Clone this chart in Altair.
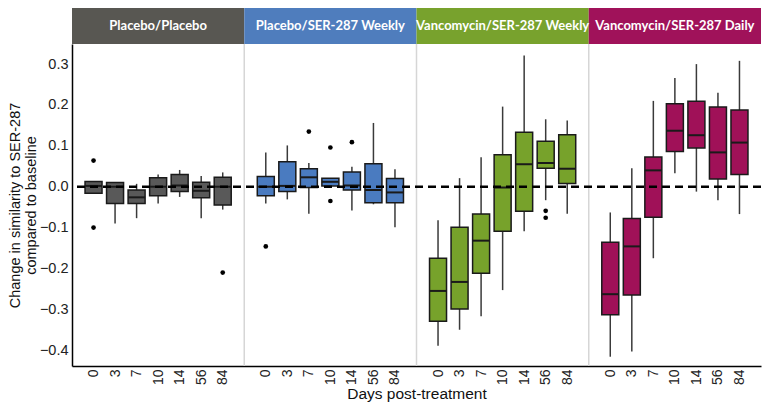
import altair as alt
import pandas as pd

groups = ["Placebo/Placebo", "Placebo/SER-287 Weekly",
          "Vancomycin/SER-287 Weekly", "Vancomycin/SER-287 Daily"]
days = ["0", "3", "7", "10", "14", "56", "84"]
strip_colors = ["#585752", "#4f7dbd", "#78a22d", "#a0125a"]
box_colors = ["#595959", "#4a7bc0", "#77a22b", "#a01158"]

# per group: lists over days
q1 = [
    [-0.016, -0.041, -0.041, -0.022, -0.012, -0.027, -0.045],
    [-0.022, -0.012, -0.002, 0.002, -0.008, -0.039, -0.039],
    [-0.329, -0.299, -0.212, -0.109, -0.060, 0.045, 0.008],
    [-0.313, -0.265, -0.075, 0.086, 0.095, 0.019, 0.030],
]
median = [
    [0.002, 0.000, -0.026, 0.000, 0.003, -0.010, 0.000],
    [0.000, 0.002, 0.023, 0.012, 0.003, -0.008, -0.014],
    [-0.255, -0.233, -0.132, -0.002, 0.055, 0.058, 0.044],
    [-0.263, -0.146, 0.040, 0.137, 0.126, 0.084, 0.108],
]
q3 = [
    [0.013, 0.010, -0.008, 0.022, 0.030, 0.011, 0.023],
    [0.025, 0.061, 0.044, 0.021, 0.036, 0.056, 0.020],
    [-0.175, -0.099, -0.067, 0.078, 0.133, 0.111, 0.127],
    [-0.136, -0.078, 0.073, 0.203, 0.209, 0.195, 0.188],
]
whisker_lo = [
    [-0.016, -0.090, -0.077, -0.041, -0.025, -0.077, -0.056],
    [-0.041, -0.031, -0.066, 0.002, -0.058, -0.043, -0.099],
    [-0.389, -0.350, -0.317, -0.253, -0.109, -0.033, -0.066],
    [-0.416, -0.403, -0.175, 0.033, -0.012, -0.033, -0.067],
]
whisker_hi = [
    [0.013, 0.010, 0.007, 0.030, 0.041, 0.026, 0.035],
    [0.084, 0.101, 0.058, 0.021, 0.049, 0.156, 0.043],
    [-0.082, 0.021, 0.072, 0.196, 0.321, 0.165, 0.162],
    [-0.063, 0.045, 0.210, 0.266, 0.300, 0.230, 0.308],
]
outlier_group = [0, 0, 0, 1, 1, 1, 1, 1, 2, 2]
outlier_day = ["0", "0", "84", "0", "7", "10", "10", "14", "56", "56"]
outlier_value = [0.064, -0.100, -0.210, -0.146, 0.135, 0.096, -0.035, 0.109, -0.059, -0.076]

SLOTS = len(days) + 1

rows = []
for gi, g in enumerate(groups):
    for di, d in enumerate(days):
        rows.append(dict(group=g, day=d, pos=gi * SLOTS + di + 1,
                         q1=q1[gi][di], med=median[gi][di], q3=q3[gi][di],
                         lo=whisker_lo[gi][di], hi=whisker_hi[gi][di]))
box_df = pd.DataFrame(rows)

out_df = pd.DataFrame({
    "group": [groups[i] for i in outlier_group],
    "pos": [gi * SLOTS + days.index(d) + 1 for gi, d in zip(outlier_group, outlier_day)],
    "value": outlier_value,
})
strip_df = pd.DataFrame({
    "group": groups,
    "start": [i * SLOTS for i in range(len(groups))],
    "end": [(i + 1) * SLOTS for i in range(len(groups))],
    "mid": [i * SLOTS + SLOTS / 2 for i in range(len(groups))],
})
sep_df = pd.DataFrame({"pos": [i * SLOTS for i in range(1, len(groups))]})
zero_df = pd.DataFrame({"y": [0.0]})

tick_vals = [gi * SLOTS + di + 1 for gi in range(len(groups)) for di in range(len(days))]
label_list = "[" + ",".join(["''"] + ["'%s'" % d for d in days]) + "]"

FONT = "Liberation Sans"
xs = alt.Scale(domain=[0, SLOTS * len(groups)], nice=False, zero=False, padding=0)
ys = alt.Scale(domain=[-0.4387, 0.3492], nice=False, zero=False, padding=0)
cs = alt.Scale(domain=groups, range=box_colors)
cs_strip = alt.Scale(domain=groups, range=strip_colors)

x_axis = alt.Axis(values=tick_vals, labelExpr=label_list + "[datum.value % " + str(SLOTS) + "]",
                  labelAngle=270, ticks=False, grid=False, domainColor="black",
                  domainWidth=1.5, labelFont=FONT, labelFontSize=14, labelColor="#222",
                  labelPadding=3, title="Days post-treatment", titleFont=FONT,
                  titleFontSize=15.5, titleFontWeight="normal", titleColor="#111",
                  titlePadding=2)
y_axis = alt.Axis(values=[-0.4, -0.3, -0.2, -0.1, 0.0, 0.1, 0.2, 0.3], format=".1f",
                  ticks=False, grid=False, domainColor="black", domainWidth=1.5,
                  labelFont=FONT, labelFontSize=14.5, labelColor="#222", labelPadding=4,
                  title=["Change in similarity to SER-287", "compared to baseline"],
                  titleFont=FONT, titleFontSize=14.5, titleFontWeight="normal",
                  titleColor="#111", titlePadding=1, titleLineHeight=15.5)


def X(f):
    return alt.X(f, scale=xs, axis=x_axis)


def Y(f):
    return alt.Y(f, scale=ys, axis=y_axis)


sep = alt.Chart(sep_df).mark_rule(color="#d6d6d6", strokeWidth=1.5).encode(x=X("pos:Q"))
whisk = alt.Chart(box_df).mark_rule(color="#3a3a3a", strokeWidth=1.5).encode(
    x=X("pos:Q"), y=Y("lo:Q"), y2="hi:Q")
box = alt.Chart(box_df).mark_bar(size=17, orient="vertical", stroke="#1a1a1a",
                                 strokeWidth=1.5, opacity=1).encode(
    x=X("pos:Q"), y=Y("q1:Q"), y2="q3:Q",
    color=alt.Color("group:N", scale=cs, legend=None))
med = alt.Chart(box_df).mark_tick(orient="horizontal", size=17, thickness=2,
                                  color="#1a1a1a", opacity=1).encode(
    x=X("pos:Q"), y=Y("med:Q"))
outl = alt.Chart(out_df).mark_circle(size=22, color="black", opacity=1).encode(
    x=X("pos:Q"), y=Y("value:Q"))
zero = alt.Chart(zero_df).mark_rule(strokeDash=[8, 5], strokeWidth=2.5, color="black").encode(
    y=Y("y:Q"))
strips = alt.Chart(strip_df).mark_rect().encode(
    x=X("start:Q"), x2="end:Q", y=alt.value(-36), y2=alt.value(0),
    fill=alt.Fill("group:N", scale=cs_strip, legend=None))
strip_text = alt.Chart(strip_df).mark_text(color="white", font="Lato", fontWeight="bold",
                                           fontSize=13).encode(
    x=X("mid:Q"), y=alt.value(-18), text="group:N")

chart = alt.layer(sep, whisk, box, med, outl, zero, strips, strip_text).resolve_scale(
    color="independent"
).properties(
    width=689, height=322,
    padding={"left": 64, "top": 36, "right": 1, "bottom": 38},
    autosize=alt.AutoSizeParams(type="none"),
).configure_view(stroke=None)

chart.save("out.html", embed_options={"renderer": "svg", "actions": False})
